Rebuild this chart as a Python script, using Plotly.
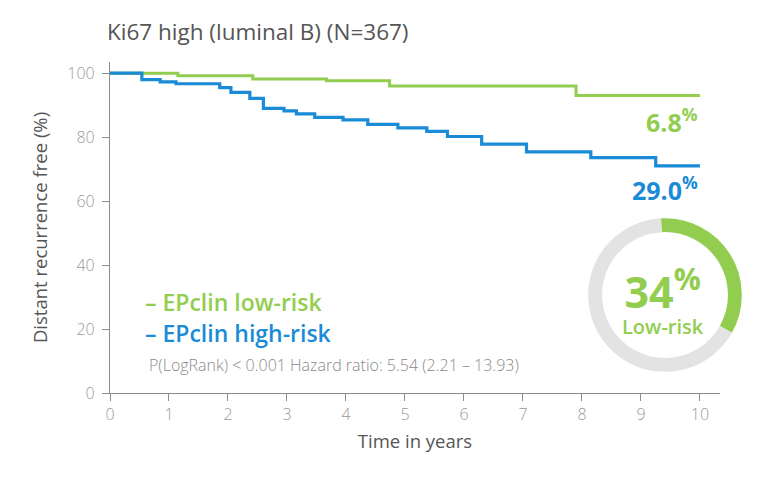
import plotly.graph_objects as go

# Kaplan-Meier curves (years, % distant recurrence free)
low_years = [0, 1.15, 2.42, 3.67, 4.74, 7.9, 10]
low_surv = [100, 99.2, 98.2, 97.6, 96.0, 93.0, 93.0]

high_years = [0, 0.54, 0.85, 1.12, 1.86, 2.05, 2.37, 2.6, 2.95, 3.16, 3.47,
              3.95, 4.37, 4.88, 5.37, 5.72, 6.3, 7.06, 8.15, 9.25, 10]
high_surv = [100, 98.0, 97.3, 96.7, 95.5, 94.0, 92.1, 89.0, 88.2, 87.3, 86.2,
             85.4, 84.0, 82.9, 81.8, 80.2, 77.8, 75.4, 73.6, 71.0, 71.0]

donut_labels = ["Low-risk", "High-risk"]
donut_values = [34, 66]

x_ticks = list(range(0, 11))
y_ticks = [0, 20, 40, 60, 80, 100]

GREEN = "#92cd50"
BLUE = "#1a8bd6"
FONT = "Open Sans"

fig = go.Figure()

fig.add_trace(go.Scatter(x=low_years, y=low_surv, mode="lines", line_shape="hv",
                         line=dict(color=GREEN, width=3), name="EPclin low-risk",
                         hoverinfo="skip"))
fig.add_trace(go.Scatter(x=high_years, y=high_surv, mode="lines", line_shape="hv",
                         line=dict(color=BLUE, width=3.2), name="EPclin high-risk",
                         hoverinfo="skip"))

fig.add_trace(go.Pie(labels=donut_labels, values=donut_values, hole=0.82, sort=False,
                     direction="clockwise", rotation=-3, textinfo="none",
                     marker=dict(colors=[GREEN, "#e3e3e3"], line=dict(width=0)),
                     domain=dict(x=[0.738, 0.975], y=[0.063, 0.529]),
                     showlegend=False, hoverinfo="skip"))

notes = [
    dict(x=10, y=85.3, text="<b>6.8<sup>%</sup></b>", color=GREEN, size=25, xanchor="right", weight=None),
    dict(x=10, y=64.1, text="<b>29.0<sup>%</sup></b>", color=BLUE, size=25, xanchor="right", weight=None),
    dict(x=0.56, y=28.4, text="– EPclin low-risk", color=GREEN, size=23, xanchor="left", weight=600),
    dict(x=0.56, y=18.8, text="– EPclin high-risk", color=BLUE, size=23, xanchor="left", weight=600),
    dict(x=0.63, y=8.8, text="P(LogRank) < 0.001 Hazard ratio: 5.54 (2.21 – 13.93)",
         color="#8a8a8a", size=16, xanchor="left", weight=300),
    dict(x=9.37, y=29.5,
         text="<span style='font-size:43px'><b>34<sup>%</sup></b></span><br>Low-risk",
         color=GREEN, size=20, xanchor="center", weight=600),
]
for n in notes:
    f = dict(family=FONT, size=n["size"], color=n["color"])
    if n["weight"]:
        f["weight"] = n["weight"]
    fig.add_annotation(x=n["x"], y=n["y"], xref="x", yref="y", text=n["text"],
                       showarrow=False, xanchor=n["xanchor"], yanchor="middle", font=f)

fig.update_layout(
    width=760, height=480,
    margin=dict(l=102, r=10, t=54, b=95),
    paper_bgcolor="white", plot_bgcolor="white",
    showlegend=False,
    font=dict(family=FONT, color="#555555"),
    title=dict(text="Ki67 high (luminal B) (N=367)", x=99 / 760, xref="container",
               xanchor="left", y=1 - 24 / 480, yanchor="middle",
               font=dict(family=FONT, size=22.5, color="#555555")),
    xaxis=dict(domain=[0, 610 / 648], range=[0, 10.34], tickvals=x_ticks,
               showgrid=False, zeroline=False, showline=True, linecolor="#8c8c8c",
               linewidth=1.2, ticks="outside", ticklen=7, tickcolor="#8c8c8c",
               tickfont=dict(size=16, color="#9a9a9a", weight=300),
               title=dict(text="Time in years", standoff=10,
                          font=dict(size=18.5, color="#555555"))),
    yaxis=dict(range=[0, 103.5], tickvals=y_ticks, showgrid=False, zeroline=False,
               showline=True, linecolor="#8c8c8c", linewidth=1.2, ticks="outside",
               ticklen=7, tickcolor="#8c8c8c", ticklabelstandoff=4,
               tickfont=dict(size=16, color="#9a9a9a", weight=300),
               title=dict(text="Distant recurrence free (%)", standoff=14,
                          font=dict(size=18.5, color="#555555"))),
)

fig.write_html("out.html")
